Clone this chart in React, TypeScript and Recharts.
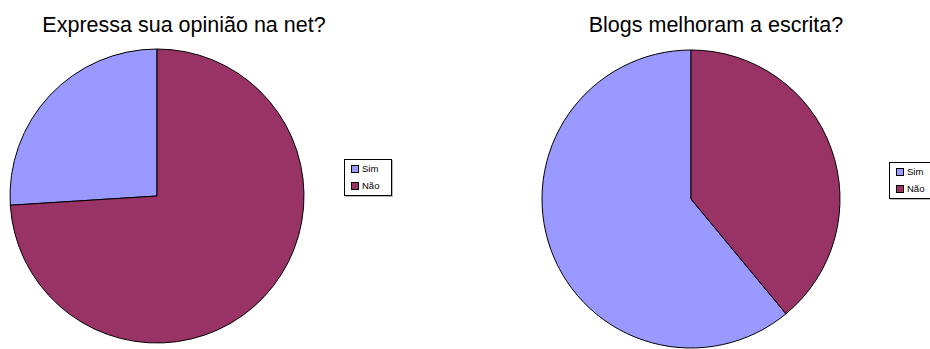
import { PieChart, Pie, Cell } from "recharts";

const categories = ["Sim", "Não"];
const opiniaoValues = [26, 74];
const blogsValues = [61, 39];
const titles = ["Expressa sua opinião na net?", "Blogs melhoram a escrita?"];

const COLORS = ["#9999FF", "#993366"];

const font = "'Liberation Sans', Arial, sans-serif";

const opiniaoData = categories.map((name, i) => ({ name, value: opiniaoValues[i] }));
const blogsData = categories.map((name, i) => ({ name, value: blogsValues[i] }));

const LegendBox = ({ left, top }: { left: number; top: number }) => (
  <div
    style={{
      position: "absolute",
      left,
      top,
      width: 48,
      height: 37,
      border: "1px solid #000",
      boxShadow: "1px 1px 0 #bbb",
      background: "#fff",
      fontFamily: font,
      fontSize: 9.5,
      boxSizing: "border-box",
    }}
  >
    {categories.map((c, i) => (
      <div
        key={c}
        style={{ position: "absolute", left: 6, top: 3 + i * 17, display: "flex", alignItems: "center" }}
      >
        <span
          style={{
            display: "inline-block",
            width: 6,
            height: 6,
            background: COLORS[i],
            border: "1px solid #000",
            marginRight: 3,
          }}
        />
        <span>{c}</span>
      </div>
    ))}
  </div>
);

const Title = ({ text, center }: { text: string; center: number }) => (
  <div
    style={{
      position: "absolute",
      left: center - 200,
      width: 400,
      top: 13,
      textAlign: "center",
      fontFamily: font,
      fontSize: 21.5,
      color: "#000",
    }}
  >
    {text}
  </div>
);

export default function App() {
  return (
    <div style={{ position: "fixed", left: 0, top: 0, width: 930, height: 349, background: "#fff", overflow: "hidden" }}>
      <PieChart width={930} height={349} margin={{ top: 0, right: 0, bottom: 0, left: 0 }}>
        <Pie
          data={opiniaoData}
          dataKey="value"
          nameKey="name"
          cx={157}
          cy={196}
          outerRadius={147}
          startAngle={90}
          endAngle={450}
          stroke="#000"
          strokeWidth={1}
          isAnimationActive={false}
        >
          {opiniaoData.map((_, i) => (
            <Cell key={i} fill={COLORS[i]} />
          ))}
        </Pie>
        <Pie
          data={blogsData}
          dataKey="value"
          nameKey="name"
          cx={691}
          cy={199}
          outerRadius={149}
          startAngle={90}
          endAngle={450}
          stroke="#000"
          strokeWidth={1}
          isAnimationActive={false}
        >
          {blogsData.map((_, i) => (
            <Cell key={i} fill={COLORS[i]} />
          ))}
        </Pie>
      </PieChart>
      <Title text={titles[0]} center={184} />
      <Title text={titles[1]} center={716} />
      <LegendBox left={344} top={159} />
      <LegendBox left={889} top={162} />
    </div>
  );
}
